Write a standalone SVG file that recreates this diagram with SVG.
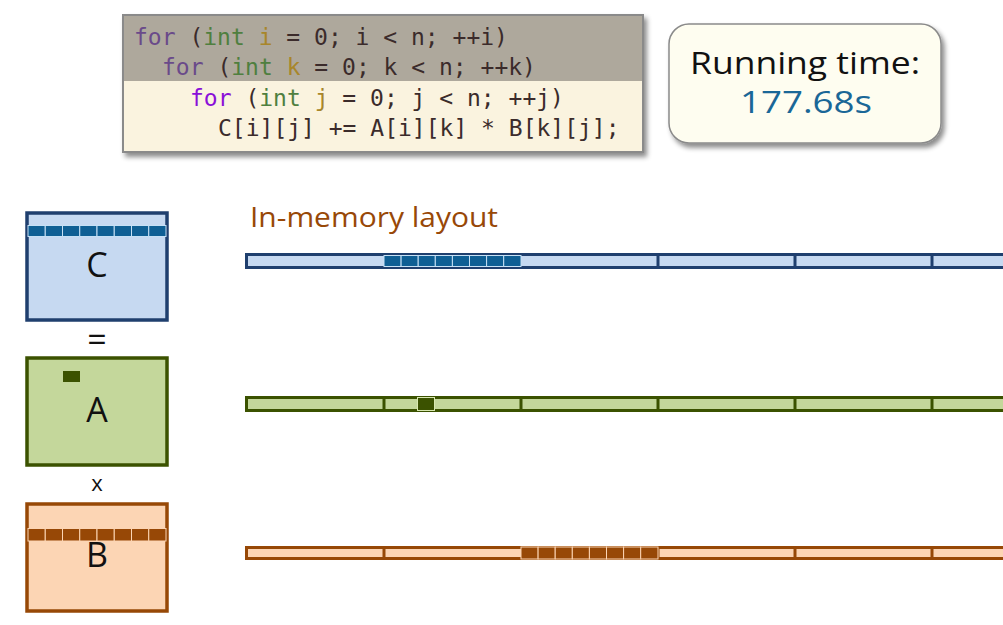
<svg xmlns="http://www.w3.org/2000/svg" width="1003" height="625" viewBox="0 0 1003 625">
<defs>
<filter id="sh" x="-10%" y="-10%" width="125%" height="130%">
<feDropShadow dx="3" dy="4" stdDeviation="2.5" flood-color="#000" flood-opacity="0.45"/>
</filter>
<style>
.code{font-family:"DejaVu Sans Mono","Liberation Mono",monospace;font-size:23px;fill:#3b2b2b}
.kw1{fill:#6a4a8a}.kw2{fill:#8a10d8}.ty{fill:#4f7f3f}.va{fill:#a8862a}
.lbl{font-family:"Open Sans","DejaVu Sans",sans-serif;text-anchor:middle}
.cbar{fill:#c6d9f1;stroke:#1f3f6e;stroke-width:3}
.abar{fill:#c4d79b;stroke:#3b5200;stroke-width:3}
.bbar{fill:#fcd5b4;stroke:#974806;stroke-width:3}
.cc{fill:#0f5f94;stroke:#c6e0f5;stroke-width:1}
.bc{fill:#974806;stroke:#fcd5b4;stroke-width:1}
.csep{stroke:#1f3f6e;stroke-width:3}
.asep{stroke:#3b5200;stroke-width:3}
.bsep{stroke:#974806;stroke-width:3}
</style>
</defs>
<rect width="1003" height="625" fill="#fff"/>

<g id="code">
<rect x="123" y="15" width="520" height="137" fill="#faf3df" stroke="#8a8a8a" stroke-width="2" filter="url(#sh)"/>
<rect x="124" y="16" width="518" height="65" fill="#aea89c"/>
<text class="code" x="134" y="45"><tspan class="kw1">for</tspan> (<tspan class="ty">int</tspan> <tspan class="va">i</tspan> = 0; i &lt; n; ++i)</text>
<text class="code" x="162" y="75"><tspan class="kw1">for</tspan> (<tspan class="ty">int</tspan> <tspan class="va">k</tspan> = 0; k &lt; n; ++k)</text>
<text class="code" x="190" y="106"><tspan class="kw2">for</tspan> (<tspan class="ty">int</tspan> <tspan class="va">j</tspan> = 0; j &lt; n; ++j)</text>
<text class="code" x="218" y="136">C[i][j] += A[i][k] * B[k][j];</text>
</g>

<g id="runtime">
<rect x="669" y="24" width="272" height="119" rx="20" ry="20" fill="#fefdf0" stroke="#8a8a8a" stroke-width="1.5" filter="url(#sh)"/>
<text class="lbl" x="805" y="74" font-size="31" fill="#111" textLength="230" lengthAdjust="spacingAndGlyphs">Running time:</text>
<text class="lbl" x="806" y="113" font-size="31" fill="#1a6797" textLength="132" lengthAdjust="spacingAndGlyphs">177.68s</text>
</g>

<g id="matC">
<rect x="27" y="213" width="140" height="107" fill="#c6d9f1" stroke="#1f3f6e" stroke-width="3.5"/>
<g class="cc">
<rect x="28" y="225.5" width="17.25" height="11"/><rect x="45.25" y="225.5" width="17.25" height="11"/><rect x="62.5" y="225.5" width="17.25" height="11"/><rect x="79.75" y="225.5" width="17.25" height="11"/><rect x="97" y="225.5" width="17.25" height="11"/><rect x="114.25" y="225.5" width="17.25" height="11"/><rect x="131.5" y="225.5" width="17.25" height="11"/><rect x="148.75" y="225.5" width="17.25" height="11"/>
</g>
<text class="lbl" x="97" y="277" font-size="34" fill="#111">C</text>
</g>

<text class="lbl" x="97" y="352" font-size="34" fill="#111">=</text>

<g id="matA">
<rect x="27" y="358" width="140" height="107" fill="#c4d79b" stroke="#3b5200" stroke-width="3.5"/>
<rect x="63" y="371" width="17" height="11" fill="#3b5200"/>
<text class="lbl" x="97" y="422" font-size="34" fill="#111">A</text>
</g>

<text class="lbl" x="97" y="491" font-size="22" fill="#111">x</text>

<g id="matB">
<rect x="27" y="504" width="140" height="107" fill="#fcd5b4" stroke="#974806" stroke-width="3.5"/>
<g class="bc">
<rect x="28" y="528.5" width="17.25" height="12.5"/><rect x="45.25" y="528.5" width="17.25" height="12.5"/><rect x="62.5" y="528.5" width="17.25" height="12.5"/><rect x="79.75" y="528.5" width="17.25" height="12.5"/><rect x="97" y="528.5" width="17.25" height="12.5"/><rect x="114.25" y="528.5" width="17.25" height="12.5"/><rect x="131.5" y="528.5" width="17.25" height="12.5"/><rect x="148.75" y="528.5" width="17.25" height="12.5"/>
</g>
<text class="lbl" x="97" y="567" font-size="34" fill="#111">B</text>
</g>

<text x="250" y="227" font-family="'Open Sans','DejaVu Sans',sans-serif" font-size="27" fill="#984807" textLength="248" lengthAdjust="spacingAndGlyphs">In-memory layout</text>

<g id="layoutC">
<rect class="cbar" x="246.5" y="254.5" width="770" height="13"/>
<line class="csep" x1="658" y1="254" x2="658" y2="268"/><line class="csep" x1="795" y1="254" x2="795" y2="268"/><line class="csep" x1="932" y1="254" x2="932" y2="268"/>
<g class="cc">
<rect x="384" y="255.5" width="17.1" height="11"/><rect x="401.1" y="255.5" width="17.1" height="11"/><rect x="418.2" y="255.5" width="17.1" height="11"/><rect x="435.3" y="255.5" width="17.1" height="11"/><rect x="452.4" y="255.5" width="17.1" height="11"/><rect x="469.5" y="255.5" width="17.1" height="11"/><rect x="486.6" y="255.5" width="17.1" height="11"/><rect x="503.7" y="255.5" width="17.3" height="11"/>
</g>
</g>

<g id="layoutA">
<rect class="abar" x="246.5" y="397.5" width="770" height="13"/>
<line class="asep" x1="384" y1="397" x2="384" y2="411"/><line class="asep" x1="521" y1="397" x2="521" y2="411"/><line class="asep" x1="658" y1="397" x2="658" y2="411"/><line class="asep" x1="795" y1="397" x2="795" y2="411"/><line class="asep" x1="932" y1="397" x2="932" y2="411"/>
<rect x="417.5" y="397.5" width="17" height="13" fill="#3b5200" stroke="#d8e8b0" stroke-width="1"/>
</g>

<g id="layoutB">
<rect class="bbar" x="246.5" y="547.5" width="770" height="11"/>
<line class="bsep" x1="384" y1="547" x2="384" y2="559"/><line class="bsep" x1="658" y1="547" x2="658" y2="559"/><line class="bsep" x1="795" y1="547" x2="795" y2="559"/><line class="bsep" x1="932" y1="547" x2="932" y2="559"/>
<g class="bc">
<rect x="521" y="547" width="17.1" height="12"/><rect x="538.1" y="547" width="17.1" height="12"/><rect x="555.2" y="547" width="17.1" height="12"/><rect x="572.3" y="547" width="17.1" height="12"/><rect x="589.4" y="547" width="17.1" height="12"/><rect x="606.5" y="547" width="17.1" height="12"/><rect x="623.6" y="547" width="17.1" height="12"/><rect x="640.7" y="547" width="17.3" height="12"/>
</g>
</g>
</svg>
